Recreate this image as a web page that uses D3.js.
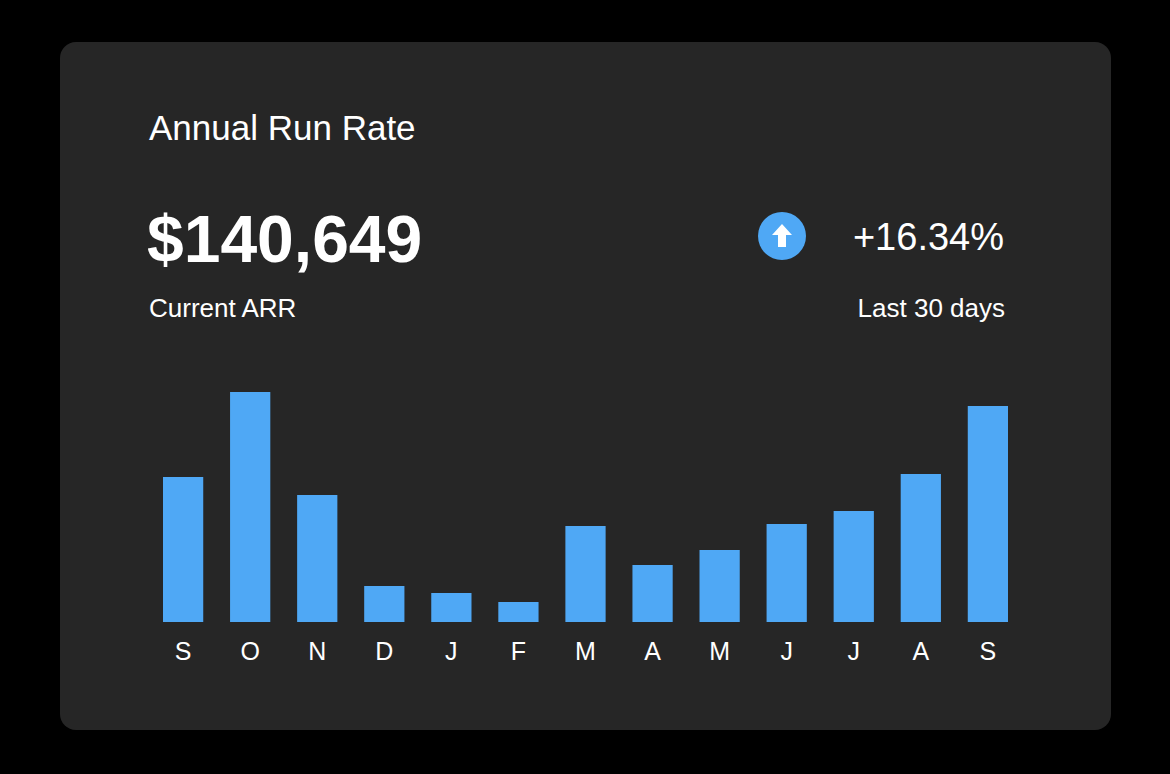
<!DOCTYPE html>
<html>
<head>
<meta charset="utf-8">
<script src="https://cdn.jsdelivr.net/npm/d3@7"></script>
<style>
  html, body { margin: 0; padding: 0; background: #000; }
  svg { display: block; font-family: "Liberation Sans", Arial, Helvetica, sans-serif; }
</style>
</head>
<body>
<svg id="chart" width="1170" height="774"></svg>
<script>
const months = ["S", "O", "N", "D", "J", "F", "M", "A", "M", "J", "J", "A", "S"];
const arrValues = [145, 230, 127, 36, 29, 20, 96, 57, 72, 98, 111, 148, 216];
const headline = "$140,649";
const change = "+16.34%";

const blue = "#4fa8f5";
const svg = d3.select("#chart");

// card
svg.append("rect")
    .attr("x", 60).attr("y", 42)
    .attr("width", 1051).attr("height", 688)
    .attr("rx", 16)
    .attr("fill", "#262626");

// header text
svg.append("text").attr("x", 149).attr("y", 140)
    .attr("fill", "#fff").attr("font-size", 35).text("Annual Run Rate");
svg.append("text").attr("x", 147).attr("y", 262)
    .attr("fill", "#fff").attr("font-size", 66).attr("font-weight", "bold").text(headline);
svg.append("text").attr("x", 149).attr("y", 317)
    .attr("fill", "#fff").attr("font-size", 26).text("Current ARR");
svg.append("text").attr("x", 1004).attr("y", 250)
    .attr("fill", "#fff").attr("font-size", 38).attr("text-anchor", "end").text(change);
svg.append("text").attr("x", 1005).attr("y", 317)
    .attr("fill", "#fff").attr("font-size", 26).attr("text-anchor", "end").text("Last 30 days");

// up arrow badge
const badge = svg.append("g").attr("transform", "translate(782,236)");
badge.append("circle").attr("r", 24).attr("fill", blue);
badge.append("path")
    .attr("d", "M0,-12 L10,-1 L4,-1 L4,11 L-4,11 L-4,-1 L-10,-1 Z")
    .attr("fill", "#fff");

// bars
const x = d3.scaleBand()
    .domain(d3.range(months.length))
    .range([163, 1008])
    .paddingInner(0.4)
    .paddingOuter(0);
const y = d3.scaleLinear().domain([0, 230]).range([622, 392]);

svg.selectAll(".bar")
    .data(arrValues)
    .join("rect")
    .attr("class", "bar")
    .attr("x", (d, i) => x(i))
    .attr("y", d => y(d))
    .attr("width", x.bandwidth())
    .attr("height", d => y(0) - y(d))
    .attr("fill", blue);

const axis = svg.append("g")
    .attr("transform", "translate(0,622)")
    .call(d3.axisBottom(x).tickSize(0).tickPadding(20).tickFormat(i => months[i]));
axis.select(".domain").remove();
axis.selectAll("text")
    .attr("fill", "#fff")
    .attr("font-size", 25)
    .attr("font-family", "'Liberation Sans', Arial, sans-serif");
</script>
</body>
</html>
